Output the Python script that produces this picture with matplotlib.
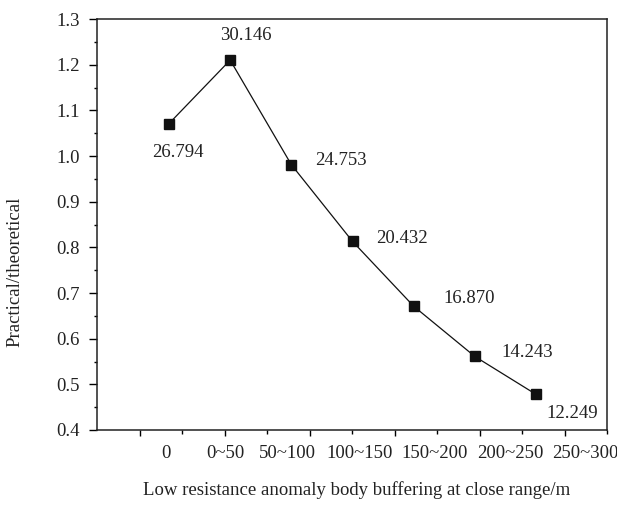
import numpy as np
import matplotlib
matplotlib.use("Agg")
import matplotlib.pyplot as plt

# ---- data ----
categories = ["0", "0~50", "50~100", "100~150", "150~200", "200~250", "250~300"]
ratio = [1.071, 1.210, 0.981, 0.813, 0.671, 0.561, 0.478]
labels = ["26.794", "30.146", "24.753", "20.432", "16.870", "14.243", "12.249"]
point_index = [1, 2, 3, 4, 5, 6, 7]

# ---- layout (not data) ----
label_offsets = [(9, -33, "center"), (16, 20, "center"), (24, 0, "left"),
                 (24, -2, "left"), (30, 3, "left"), (27, -1, "left"), (10, -24, "left")]
cat_label_pos = [0.951, 1.915, 2.929, 4.122, 5.349, 6.575, 7.801]

plt.rcParams['font.family'] = ['Liberation Serif', 'DejaVu Serif']
FS = 13.5

W, H = 617, 507
fig = plt.figure(figsize=(W / 100, H / 100), dpi=100)
L, R, T, B = 97, 607, 19, 430
ax = fig.add_axes([L / W, 1 - B / H, (R - L) / W, (B - T) / H])

xlo, xhi = -0.177, 8.160
ax.set_xlim(xlo, xhi)
ax.set_ylim(0.4, 1.3)

ax.plot(point_index, ratio, color="#111111", lw=0.9, marker="s", ms=6.6,
        mfc="#111111", mec="#111111", zorder=3)

for xi, yi, txt, (dx, dy, ha) in zip(point_index, ratio, labels, label_offsets):
    ax.annotate(txt, (xi, yi), xytext=(dx, dy), textcoords="offset pixels",
                ha=ha, va="baseline", fontsize=FS, color="#222222")

# tick marks along x
tpos = np.linspace(xlo, xhi, 13)[1:]
ax.set_xticks(tpos[0::2])
ax.set_xticks(tpos[1::2], minor=True)
ax.tick_params(axis="x", which="major", direction="out", length=4.5, width=1.0,
               labelbottom=False, top=False)
ax.tick_params(axis="x", which="minor", direction="out", length=2.8, width=1.0, top=False)

# category labels
sec = ax.secondary_xaxis("bottom")
sec.set_xticks(cat_label_pos)
sec.set_xticklabels(categories, fontsize=FS, color="#222222")
sec.tick_params(length=0, pad=11)
sec.spines["bottom"].set_visible(False)

# y ticks
ax.set_yticks(np.arange(0.4, 1.31, 0.1))
ax.set_yticks(np.arange(0.45, 1.3, 0.1), minor=True)
ax.set_yticklabels([f"{v:.1f}" for v in np.arange(0.4, 1.31, 0.1)], fontsize=FS, color="#222222")
ax.tick_params(axis="y", which="major", direction="out", length=5.8, width=1.0, pad=6.5, right=False)
ax.tick_params(axis="y", which="minor", direction="out", length=2.5, width=1.0, right=False)

for s in ax.spines.values():
    s.set_linewidth(1.1)
    s.set_color("#222222")

fig.text(15 / W, 1 - 272 / H, "Practical/theoretical", rotation=90,
         ha="center", va="center", fontsize=FS, color="#222222")
fig.text(357 / W, 1 - 490 / H, "Low resistance anomaly body buffering at close range/m",
         ha="center", va="center", fontsize=FS, color="#222222")

fig.savefig("out.png", dpi=100)
